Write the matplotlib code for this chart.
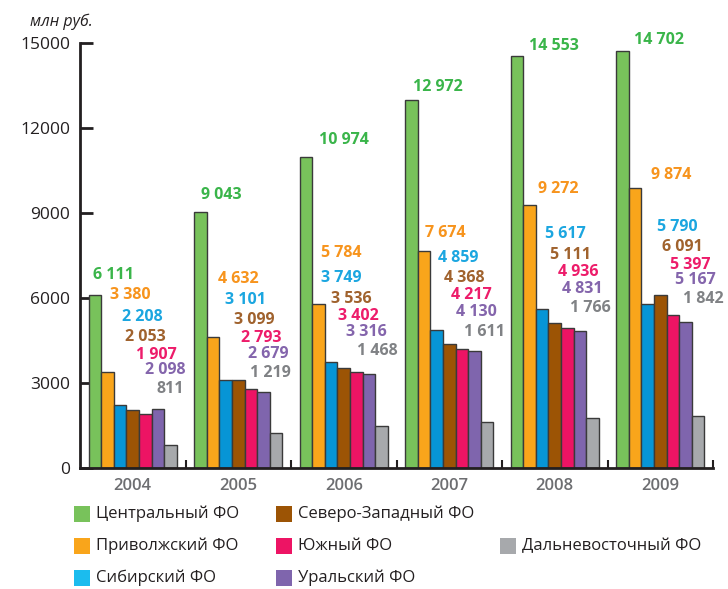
import numpy as np
import matplotlib.pyplot as plt
from matplotlib.patches import Rectangle

plt.rcParams['font.family'] = ['Open Sans', 'DejaVu Sans']

years = ['2004', '2005', '2006', '2007', '2008', '2009']
districts = ['Центральный ФО', 'Приволжский ФО', 'Сибирский ФО', 'Северо-Западный ФО',
             'Южный ФО', 'Уральский ФО', 'Дальневосточный ФО']

central = [6111, 9043, 10974, 12972, 14553, 14702]
volga = [3380, 4632, 5784, 7674, 9272, 9874]
siberia = [2208, 3101, 3749, 4859, 5617, 5790]
northwest = [2053, 3099, 3536, 4368, 5111, 6091]
south = [1907, 2793, 3402, 4217, 4936, 5397]
ural = [2098, 2679, 3316, 4130, 4831, 5167]
fareast = [811, 1219, 1468, 1611, 1766, 1842]
series = [central, volga, siberia, northwest, south, ural, fareast]

bar_colors = ['#78c25b', '#f9a51b', '#0795d6', '#9c5405', '#ed1464', '#7f65ad', '#a7a9ac']
text_colors = ['#3ab54a', '#f7941d', '#1ba6e0', '#a0622d', '#ed1c6a', '#8465ac', '#808285']
legend_colors = ['#78c25b', '#f9a51b', '#1bbcee', '#9c5405', '#ed1464', '#7f65ad', '#a7a9ac']

# value label placement: offset inside the year slot, and height in data units
label_dx = [
    [0.32, 0.48, 0.59, 0.62, 0.72, 0.81, 0.86],
    [0.34, 0.50, 0.57, 0.65, 0.72, 0.78, 0.80],
    [0.50, 0.48, 0.48, 0.57, 0.64, 0.71, 0.82],
    [0.39, 0.46, 0.58, 0.64, 0.71, 0.76, 0.83],
    [0.49, 0.53, 0.60, 0.65, 0.72, 0.76, 0.84],
    [0.49, 0.60, 0.66, 0.71, 0.78, 0.83, 0.91],
]
label_y = [
    [6810, 6110, 5330, 4630, 3990, 3470, 2800],
    [9640, 6660, 5930, 5220, 4600, 4010, 3370],
    [11580, 7590, 6700, 5980, 5350, 4800, 4130],
    [13450, 8280, 7400, 6720, 6100, 5510, 4810],
    [14890, 9850, 8250, 7520, 6910, 6330, 5660],
    [15110, 10340, 8510, 7800, 7180, 6630, 5980],
]

W, H = 728, 589
fig = plt.figure(figsize=(W / 100, H / 100), dpi=100)
ax = fig.add_axes([80 / W, 121 / H, 633 / W, 425 / H])

bw = 0.119
slots = np.arange(len(years))
for j, vals in enumerate(series):
    ax.bar(slots + 0.5 + (j - 3) * bw, vals, width=bw, color=bar_colors[j],
           edgecolor='#3a3a3a', linewidth=1.0, zorder=2)

for i in range(len(years)):
    for j, vals in enumerate(series):
        s = f"{vals[i]:,}".replace(',', ' ')
        ax.text(i + label_dx[i][j], label_y[i][j], s, ha='center', va='center',
                color=text_colors[j], fontsize=11.5, fontweight='bold')

ax.set_xlim(0, 6)
ax.set_ylim(0, 15000)
for side in ['top', 'right']:
    ax.spines[side].set_visible(False)
for side in ['left', 'bottom']:
    ax.spines[side].set_linewidth(2)
    ax.spines[side].set_color('#231f20')

ax.set_yticks([0, 3000, 6000, 9000, 12000, 15000])
ax.set_yticklabels(['0', '3000', '6000', '9000', '12000', '15000'])
ax.tick_params(axis='y', direction='in', length=9, width=2, color='#231f20',
               labelsize=12.5, labelcolor='#231f20', pad=7)

ax.set_xticks([1, 2, 3, 4, 5, 6])
ax.set_xticklabels([])
ax.set_xticks(slots + 0.5, minor=True)
ax.set_xticklabels(years, minor=True, fontweight='semibold')
ax.tick_params(axis='x', which='major', direction='in', length=6, width=1.5, color='#231f20')
ax.tick_params(axis='x', which='minor', length=0, labelsize=12, labelcolor='#6d6e71', pad=7)

fig.text(30 / W, 1 - 22 / H, 'млн руб.', ha='left', va='center', fontsize=11.5,
         style='italic', color='#231f20')

# legend, laid out by hand in three columns
legend_pos = [(74, 514), (74, 546), (74, 578), (276, 514), (276, 546), (276, 578), (500, 546)]
sq = 16
for j, (px, py) in enumerate(legend_pos):
    fig.add_artist(Rectangle((px / W, 1 - (py + sq / 2) / H), sq / W, sq / H,
                             transform=fig.transFigure, color=legend_colors[j], lw=0))
    fig.text((px + sq + 6) / W, 1 - py / H, districts[j], ha='left', va='center',
             fontsize=12, color='#231f20')

fig.savefig('out.png', dpi=100)
